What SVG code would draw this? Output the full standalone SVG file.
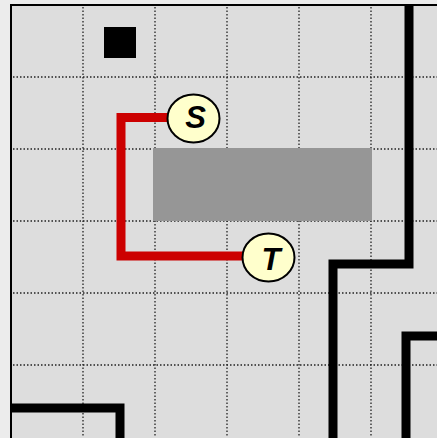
<svg xmlns="http://www.w3.org/2000/svg" width="437" height="438" viewBox="0 0 437 438">
<style>
.grid{stroke:#222;stroke-width:1.3;stroke-dasharray:1.5 2;fill:none}
.wall{stroke:#000;stroke-width:9;fill:none;stroke-linejoin:miter}
.route{stroke:#cc0000;stroke-width:9;fill:none;stroke-linejoin:miter}
.term ellipse{fill:#ffffcc;stroke:#000;stroke-width:2}
.term text{font-family:"Liberation Sans",Arial,sans-serif;font-size:31px;font-weight:bold;font-style:italic;text-anchor:middle;fill:#000}
</style>
<rect x="0" y="0" width="437" height="438" fill="#ececec"/>
<rect x="11" y="5" width="430" height="437" fill="#dddddd" stroke="#000" stroke-width="2"/>
<g id="grid">
<line class="grid" x1="83" y1="7" x2="83" y2="436"/>
<line class="grid" x1="155" y1="7" x2="155" y2="436"/>
<line class="grid" x1="227" y1="7" x2="227" y2="436"/>
<line class="grid" x1="299" y1="7" x2="299" y2="436"/>
<line class="grid" x1="371" y1="7" x2="371" y2="436"/>
<line class="grid" x1="13" y1="77" x2="437" y2="77"/>
<line class="grid" x1="13" y1="149" x2="437" y2="149"/>
<line class="grid" x1="13" y1="221" x2="437" y2="221"/>
<line class="grid" x1="13" y1="293" x2="437" y2="293"/>
<line class="grid" x1="13" y1="365" x2="437" y2="365"/>
</g>
<g id="obstacle"><rect x="153" y="148" width="219" height="73" fill="#969696"/></g>
<g id="block"><rect x="104" y="27" width="32" height="31" fill="#000"/></g>
<g id="walls">
<path class="wall" d="M409,5 V264 H333 V440"/>
<path class="wall" d="M440,336 H406 V440"/>
<path class="wall" d="M11,408 H120 V440"/>
</g>
<g id="connectors">
<path class="route" d="M170,117.5 H121 V256 H244"/>
</g>
<g id="S" class="term">
<ellipse cx="193.5" cy="118.5" rx="26" ry="24"/>
<text x="195.5" y="128">S</text>
</g>
<g id="T" class="term">
<ellipse cx="268.5" cy="257.5" rx="26" ry="24"/>
<text x="271" y="269.5">T</text>
</g>
</svg>
